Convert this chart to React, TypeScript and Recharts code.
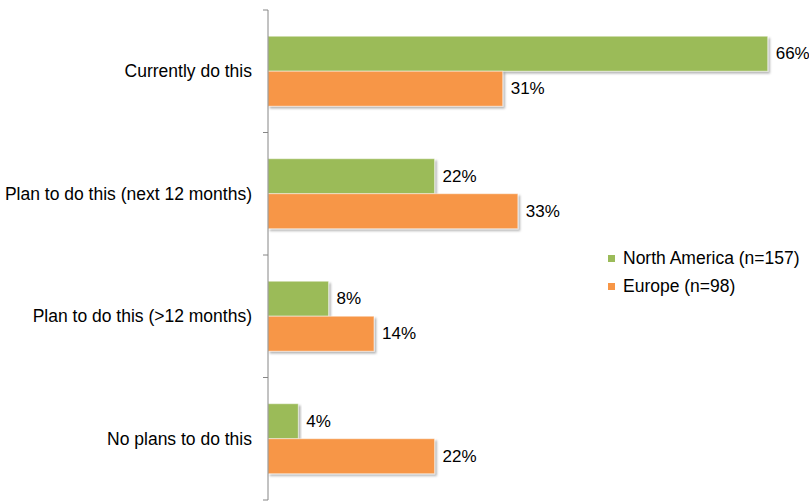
import React from "react";
import { BarChart, Bar, XAxis, YAxis, LabelList } from "recharts";

const categories = [
  "Currently do this",
  "Plan to do this (next 12 months)",
  "Plan to do this (>12 months)",
  "No plans to do this",
];
const northAmerica = [66, 22, 8, 4];
const europe = [31, 33, 14, 22];
const seriesNames = ["North America (n=157)", "Europe (n=98)"];
const colors = ["#9BBB59", "#F79646"];

const data = categories.map((name, i) => ({
  name,
  na: northAmerica[i],
  eu: europe[i],
}));

const WIDTH = 809;
const HEIGHT = 503;
const MARGIN = { top: 10, right: 11, bottom: 3, left: 0 };
const FONT = "'Liberation Sans', Arial, sans-serif";
const FONT_SIZE = 17.5;
const band = (HEIGHT - MARGIN.top - MARGIN.bottom) / categories.length;

// category tick: label at band centre, tick marks on band boundaries
const CategoryTick = (props: any) => {
  const { x, y, payload, index } = props;
  return (
    <g>
      <line x1={x + 11} x2={x + 16} y1={y - band / 2} y2={y - band / 2} stroke="#868686" />
      {index === categories.length - 1 && (
        <line x1={x + 11} x2={x + 16} y1={y + band / 2} y2={y + band / 2} stroke="#868686" />
      )}
      <text x={x} y={y} textAnchor="end" dominantBaseline="central" fill="#000" fontSize={FONT_SIZE} fontFamily={FONT}>
        {payload.value}
      </text>
    </g>
  );
};

const ShadowBar = (props: any) => {
  const { x, y, width, height, fill } = props;
  if (!width || width <= 0) return null;
  return (
    <rect x={x} y={y} width={width} height={height} fill={fill} stroke="rgba(255,255,255,0.5)" strokeWidth={1} filter="url(#barShadow)" />
  );
};

// value label right of the bar, kept inside the chart
const ValueLabel = (props: any) => {
  const { x, y, width, height, value } = props;
  const text = `${value}%`;
  const textW = text.length * 10.5;
  const lx = Math.min(x + width + 8, WIDTH - textW);
  return (
    <text x={lx} y={y + height / 2} dominantBaseline="central" fill="#000" fontSize={17} fontFamily={FONT}>
      {text}
    </text>
  );
};

const LegendBox = () => (
  <div style={{ position: "absolute", left: 608, top: 244, fontFamily: FONT, fontSize: FONT_SIZE, color: "#000", whiteSpace: "nowrap" }}>
    {seriesNames.map((n, i) => (
      <div key={n} style={{ display: "flex", alignItems: "center", height: 28 }}>
        <span style={{ width: 7, height: 7, background: colors[i], marginRight: 8, display: "inline-block" }} />
        {n}
      </div>
    ))}
  </div>
);

export default function App() {
  return (
    <div style={{ position: "absolute", left: 0, top: 0, width: WIDTH, height: HEIGHT, background: "#fff" }}>
      <BarChart
        width={WIDTH}
        height={HEIGHT}
        data={data}
        layout="vertical"
        margin={MARGIN}
        barCategoryGap="21.4%"
        barGap={0}
      >
        <defs>
          <filter id="barShadow" x="-5%" y="-20%" width="115%" height="150%">
            <feDropShadow dx="2" dy="2" stdDeviation="1.3" floodColor="#000" floodOpacity="0.3" />
          </filter>
        </defs>
        <XAxis type="number" domain={[0, 70]} hide />
        <YAxis
          type="category"
          dataKey="name"
          width={268}
          axisLine={{ stroke: "#868686" }}
          tickLine={false}
          tickSize={0}
          tickMargin={16}
          tick={<CategoryTick />}
          interval={0}
        />
        <Bar dataKey="na" name={seriesNames[0]} fill={colors[0]} shape={<ShadowBar />} isAnimationActive={false}>
          <LabelList dataKey="na" content={<ValueLabel />} />
        </Bar>
        <Bar dataKey="eu" name={seriesNames[1]} fill={colors[1]} shape={<ShadowBar />} isAnimationActive={false}>
          <LabelList dataKey="eu" content={<ValueLabel />} />
        </Bar>
      </BarChart>
      <LegendBox />
    </div>
  );
}
